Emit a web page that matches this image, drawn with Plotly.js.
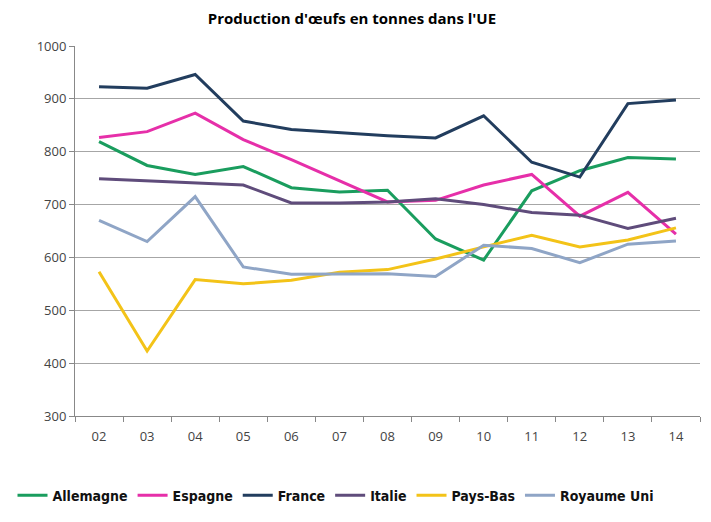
<!DOCTYPE html>
<html>
<head>
<meta charset="utf-8">
<script src="https://cdn.plot.ly/plotly-3.0.1.min.js"></script>
<style>html,body{margin:0;padding:0;background:#fff;}#chart{width:711px;height:522px;}</style>
</head>
<body>
<div id="chart"></div>
<script>
const years = ["02","03","04","05","06","07","08","09","10","11","12","13","14"];
const allemagne = [819, 774, 757, 772, 732, 724, 727, 635, 595, 726, 764, 789, 786];
const espagne   = [827, 838, 873, 823, 785, 745, 705, 708, 737, 757, 678, 723, 644];
const france    = [923, 920, 946, 858, 842, 836, 830, 826, 868, 780, 752, 891, 898];
const italie    = [749, 745, 742, 737, 703, 703, 705, 711, 700, 685, 680, 655, 674];
const paysBas   = [573, 423, 558, 550, 557, 572, 577, 597, 620, 642, 620, 633, 656];
const royaumeUni= [670, 630, 715, 582, 568, 568, 569, 564, 623, 617, 590, 625, 631];

const names  = ["Allemagne","Espagne","France","Italie","Pays-Bas","Royaume Uni"];
const series = [allemagne, espagne, france, italie, paysBas, royaumeUni];
const colors = ["#1a9d5e","#e62fa9","#223d5e","#5f4c7b","#f3c318","#8fa5c6"];

const data = series.map((s,i)=>({
  x: years, y: s, name: names[i], type: "scatter", mode: "lines",
  line: {color: colors[i], width: 3}
}));

const layout = {
  width: 711, height: 522,
  margin: {l: 75, r: 11, t: 46, b: 100},
  paper_bgcolor: "#fff", plot_bgcolor: "#fff",
  title: {text: "<b>Production d'œufs en tonnes dans l'UE</b>", x: 0.495, xanchor: "center", y: 0.965, yanchor: "middle",
          font: {family: "Open Sans", size: 15, color: "#000"}},
  xaxis: {type: "category", tickson: "boundaries", ticks: "outside", ticklen: 5, tickcolor: "#888",
          showline: true, linecolor: "#888", linewidth: 1, showgrid: false, ticklabelstandoff: 8,
          tickfont: {family: "Open Sans", size: 13, color: "#444"}, range: [-0.5, 12.5]},
  yaxis: {range: [300, 1000], dtick: 100, showline: true, linecolor: "#888", linewidth: 1,
          gridcolor: "#a6a6a6", gridwidth: 1, zeroline: false, ticks: "outside", ticklen: 5, tickcolor: "#888",
          tickfont: {family: "Open Sans", size: 13, color: "#444"}},
  showlegend: true,
  legend: {orientation: "h", x: -0.1, xanchor: "left", y: -0.215, yanchor: "middle",
           font: {family: "DejaVu Sans Condensed, Open Sans", size: 14, color: "#111", weight: "bold"},
           itemwidth: 30, tracegroupgap: 0},
};
Plotly.newPlot("chart", data, layout, {displayModeBar: false, staticPlot: true});
</script>
</body>
</html>
